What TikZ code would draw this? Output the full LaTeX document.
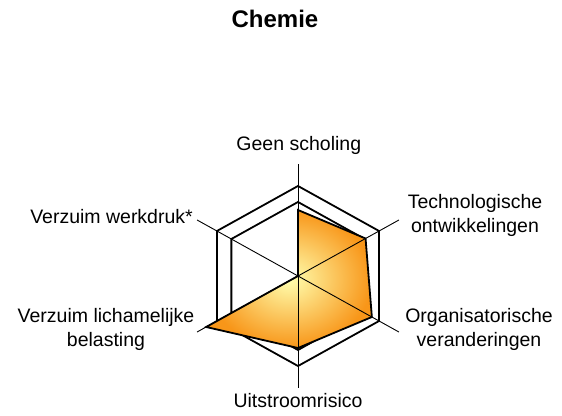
\documentclass[tikz,border=0pt]{standalone}
\usepackage{fontspec}
\setmainfont{Liberation Sans}
\usepackage{tikz}
\usepackage{xcolor}
\definecolor{kerngeel}{RGB}{255,255,175}
\definecolor{randoranje}{RGB}{248,150,25}

\begin{document}
\begin{tikzpicture}[x=1pt,y=1pt,
  asnaam/.style={font=\fontsize{19.5}{24}\selectfont, align=center, inner sep=0pt},
  as/.style={line width=0.9pt},
  raster/.style={line width=1.8pt, line join=miter}]
\useasboundingbox (0,0) rectangle (562,415);
%%%TITLE
\node[anchor=base, inner sep=0pt, font=\bfseries\fontsize{24}{28}\selectfont] (titel) at (275,387.7) {Chemie};

\begin{scope}[shift={(298,139)}, xscale=1.04]
%%%AXES
\coordinate (c) at (0,0);
\coordinate (a1) at (90:112);
\coordinate (a2) at (30:112);
\coordinate (a3) at (-30:112);
\coordinate (a4) at (-90:112);
\coordinate (a5) at (210:112);
\coordinate (a6) at (150:112);
%%%GRID
\draw[raster] (90:90) -- (30:90) -- (-30:90) -- (-90:90) -- (210:90) -- (150:90) -- cycle;
\draw[raster] (90:74) -- (30:74) -- (-30:74) -- (-90:74) -- (210:74) -- (150:74) -- cycle;
%%%DATA
\coordinate (d1) at (90:66);
\coordinate (d2) at (30:75);
\coordinate (d3) at (-30:82);
\coordinate (d4) at (-90:72);
\coordinate (d5) at (210:102);
\filldraw[raster, inner color=kerngeel, outer color=randoranje]
  (d1) -- (d2) -- (d3) -- (d4) -- (d5) -- (c) -- cycle;
\draw[as] (c) -- (a1);
\draw[as] (c) -- (a2);
\draw[as] (c) -- (a3);
\draw[as] (c) -- (a4);
\draw[as] (c) -- (a5);
\draw[as] (c) -- (a6);
\end{scope}

%%%LABELS
\node[asnaam, anchor=base] (scholing) at (298.8,264) {Geen scholing};
\node[asnaam, anchor=base] (techniek) at (475,182) {Technologische\\ontwikkelingen};
\node[asnaam, anchor=base] (organisatie) at (479,68.3) {Organisatorische\\veranderingen};
\node[asnaam, anchor=base] (uitstroom) at (298,8) {Uitstroomrisico};
\node[asnaam, anchor=base] (lichamelijk) at (106,68.3) {Verzuim lichamelijke\\belasting};
\node[asnaam, anchor=base east] (werkdruk) at (193,191.7) {Verzuim werkdruk*};
\end{tikzpicture}
\end{document}
